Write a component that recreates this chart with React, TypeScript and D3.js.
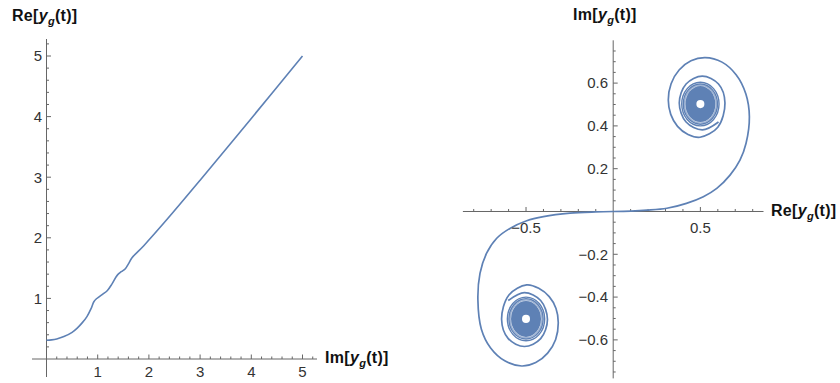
import React from "react";
import * as d3 from "d3";

// ---------- Left plot data: Re[y_g] vs Im[y_g] ----------
const leftIm = [0, 0.1, 0.2, 0.34, 0.5, 0.6, 0.7, 0.79, 0.87, 0.925, 0.97, 1.02, 1.1, 1.19, 1.28, 1.38, 1.46, 1.54, 1.6, 1.67, 1.9, 2.33, 3, 4, 5];
const leftRe = [0.31, 0.315, 0.33, 0.37, 0.44, 0.51, 0.6, 0.7, 0.83, 0.945, 0.99, 1.02, 1.07, 1.13, 1.24, 1.38, 1.44, 1.49, 1.57, 1.67, 1.87, 2.28, 2.95, 3.97, 5.0];
const leftXTicks = [1, 2, 3, 4, 5];
const leftYTicks = [1, 2, 3, 4, 5];

// ---------- Right plot data: Im[y_g] vs Re[y_g] (spiral) ----------
const upRe = [0, 0.1, 0.193, 0.308, 0.42, 0.517, 0.594, 0.67, 0.727, 0.762, 0.781, 0.761, 0.706, 0.624, 0.527, 0.446, 0.378, 0.332, 0.316, 0.33, 0.369, 0.429, 0.498, 0.6, 0.641, 0.604, 0.511, 0.418, 0.379, 0.418, 0.511, 0.604];
const upIm = [0, 0.002, 0.006, 0.015, 0.038, 0.069, 0.108, 0.17, 0.24, 0.319, 0.443, 0.549, 0.638, 0.698, 0.719, 0.704, 0.661, 0.597, 0.521, 0.454, 0.398, 0.36, 0.347, 0.394, 0.507, 0.596, 0.633, 0.596, 0.507, 0.418, 0.381, 0.418];
const loRe = [0, -0.1, -0.248, -0.4, -0.496, -0.592, -0.668, -0.726, -0.764, -0.776, -0.756, -0.703, -0.622, -0.525, -0.444, -0.376, -0.33, -0.315, -0.328, -0.367, -0.427, -0.496, -0.598, -0.64, -0.602, -0.509, -0.416, -0.377, -0.416, -0.509, -0.602];
const loIm = [0, -0.002, -0.008, -0.024, -0.043, -0.079, -0.125, -0.195, -0.289, -0.414, -0.55, -0.638, -0.698, -0.722, -0.706, -0.662, -0.598, -0.52, -0.453, -0.398, -0.359, -0.343, -0.39, -0.505, -0.594, -0.631, -0.594, -0.505, -0.416, -0.379, -0.416];
const spiralCenters = [[0.5, 0.502], [-0.5, -0.502]];
const ringRx = [0.107, 0.098, 0.091];
const ringRy = [0.102, 0.094, 0.088];
const discR = [0.086, 0.084]; // rx, ry of dense core
const holeR = [0.023, 0.019];
const rightXTicks = [-0.5, 0.5];
const rightYTicks = [-0.6, -0.4, -0.2, 0.2, 0.4, 0.6];

const LINE = "#5e81b5";
const AXIS = "#666";
const TXT = "#333";
const FONT = "'Liberation Sans', Arial, sans-serif";

function AxisLabel({ x, y, pre }: { x: number; y: number; pre: string }) {
  return (
    <text x={x} y={y} fontFamily={FONT} fontWeight="bold" fontSize={16} fill="#111" letterSpacing={0.3}>
      <tspan>{pre}[</tspan>
      <tspan fontStyle="italic">y</tspan>
      <tspan fontStyle="italic" fontSize={11} dy={4}>g</tspan>
      <tspan dy={-4}>(t)]</tspan>
    </text>
  );
}

export default function App() {
  // Left scales
  const lx = d3.scaleLinear().domain([0, 5]).range([46.5, 302.5]);
  const ly = d3.scaleLinear().domain([0, 5]).range([359, 56]);
  const leftPts = leftIm.map((v, i) => [lx(v), ly(leftRe[i])] as [number, number]);
  const leftPath = d3.line().curve(d3.curveCatmullRom)(leftPts) || "";
  const lxMinor = d3.range(1, 27).map((i) => i * 0.2).filter((v) => Math.abs(v - Math.round(v)) > 1e-6);
  const lyMinor = lxMinor;

  // Right scales
  const rx = d3.scaleLinear().domain([-0.862, 0.862]).range([462.9, 763.5]);
  const ry = d3.scaleLinear().domain([-0.78, 0.8]).range([378.4, 40.3]);
  const sx = (v: number) => rx(v) - rx(0);
  const sy = (v: number) => ry(0) - ry(v);
  const lineGen = d3.line().curve(d3.curveCatmullRom.alpha(0.5));
  const upPath = lineGen(upRe.map((v, i) => [rx(v), ry(upIm[i])] as [number, number])) || "";
  const loPath = lineGen(loRe.map((v, i) => [rx(v), ry(loIm[i])] as [number, number])) || "";
  const rxMinor = d3.range(-8, 9).map((i) => i / 10).filter((v) => Math.abs(v) > 1e-6 && Math.abs(Math.abs(v) - 0.5) > 1e-6);
  const ryMinor = d3.range(-15, 16).map((i) => i * 0.05).filter((v) => Math.abs(v) > 1e-6 && Math.abs(Math.round(v * 5) - v * 5) > 1e-6);

  return (
    <svg width={840} height={383} style={{ position: "absolute", left: 0, top: 0, background: "#fff" }}>
      {/* ---------- LEFT PLOT ---------- */}
      <g>
        <line x1={32} x2={317} y1={ly(0)} y2={ly(0)} stroke={AXIS} strokeWidth={1} />
        <line x1={lx(0)} x2={lx(0)} y1={39} y2={377} stroke={AXIS} strokeWidth={1} />
        {lxMinor.map((v) => (
          <line key={"lxm" + v} x1={lx(v)} x2={lx(v)} y1={ly(0)} y2={ly(0) - 2.5} stroke={AXIS} />
        ))}
        {leftXTicks.map((v) => (
          <g key={"lxt" + v}>
            <line x1={lx(v)} x2={lx(v)} y1={ly(0)} y2={ly(0) - 4.5} stroke={AXIS} />
            <text x={lx(v)} y={377} textAnchor="middle" fontFamily={FONT} fontSize={15} fill={TXT}>{v}</text>
          </g>
        ))}
        {lyMinor.map((v) => (
          <line key={"lym" + v} x1={lx(0)} x2={lx(0) + 2.5} y1={ly(v)} y2={ly(v)} stroke={AXIS} />
        ))}
        {leftYTicks.map((v) => (
          <g key={"lyt" + v}>
            <line x1={lx(0)} x2={lx(0) + 4.5} y1={ly(v)} y2={ly(v)} stroke={AXIS} />
            <text x={42} y={ly(v) + 5.3} textAnchor="end" fontFamily={FONT} fontSize={15} fill={TXT}>{v}</text>
          </g>
        ))}
        <path d={leftPath} fill="none" stroke={LINE} strokeWidth={1.6} />
        <AxisLabel x={12} y={21} pre="Re" />
        <AxisLabel x={325} y={363} pre="Im" />
      </g>

      {/* ---------- RIGHT PLOT ---------- */}
      <g>
        <line x1={rx(-0.862)} x2={rx(0.862)} y1={ry(0)} y2={ry(0)} stroke={AXIS} strokeWidth={1} />
        <line x1={rx(0)} x2={rx(0)} y1={ry(0.8)} y2={ry(-0.78)} stroke={AXIS} strokeWidth={1} />
        {rxMinor.map((v) => (
          <line key={"rxm" + v} x1={rx(v)} x2={rx(v)} y1={ry(0)} y2={ry(0) - 2.5} stroke={AXIS} />
        ))}
        {rightXTicks.map((v) => (
          <line key={"rxt" + v} x1={rx(v)} x2={rx(v)} y1={ry(0)} y2={ry(0) - 4.5} stroke={AXIS} />
        ))}
        {ryMinor.map((v) => (
          <line key={"rym" + v} x1={rx(0)} x2={rx(0) + 2.5} y1={ry(v)} y2={ry(v)} stroke={AXIS} />
        ))}
        {rightYTicks.map((v) => (
          <g key={"ryt" + v}>
            <line x1={rx(0)} x2={rx(0) + 4.5} y1={ry(v)} y2={ry(v)} stroke={AXIS} />
            <text x={608} y={ry(v) + 5.3} textAnchor="end" fontFamily={FONT} fontSize={15} fill={TXT}>
              {v < 0 ? "\u2212" + Math.abs(v).toFixed(1) : v.toFixed(1)}
            </text>
          </g>
        ))}
        <path d={upPath} fill="none" stroke={LINE} strokeWidth={1.7} />
        <path d={loPath} fill="none" stroke={LINE} strokeWidth={1.7} />
        {spiralCenters.map(([cx, cy], k) => (
          <g key={"sp" + k}>
            {ringRx.map((r, i) => (
              <ellipse key={i} cx={rx(cx)} cy={ry(cy)} rx={sx(r)} ry={sy(ringRy[i])} fill="none" stroke={LINE} strokeWidth={1.4} opacity={i === 2 ? 0.6 : 1} />
            ))}
            <ellipse cx={rx(cx)} cy={ry(cy)} rx={sx(discR[0])} ry={sy(discR[1])} fill={LINE} />
            <ellipse cx={rx(cx)} cy={ry(cy)} rx={sx(holeR[0])} ry={sy(holeR[1])} fill="#fff" />
          </g>
        ))}
        {rightXTicks.map((v) => (
          <text key={"rxl" + v} x={rx(v)} y={233} textAnchor="middle" fontFamily={FONT} fontSize={15} fill={TXT}>
            {v < 0 ? "\u2212" + Math.abs(v).toFixed(1) : v.toFixed(1)}
          </text>
        ))}
        <AxisLabel x={573} y={20} pre="Im" />
        <AxisLabel x={771} y={216} pre="Re" />
      </g>
    </svg>
  );
}
